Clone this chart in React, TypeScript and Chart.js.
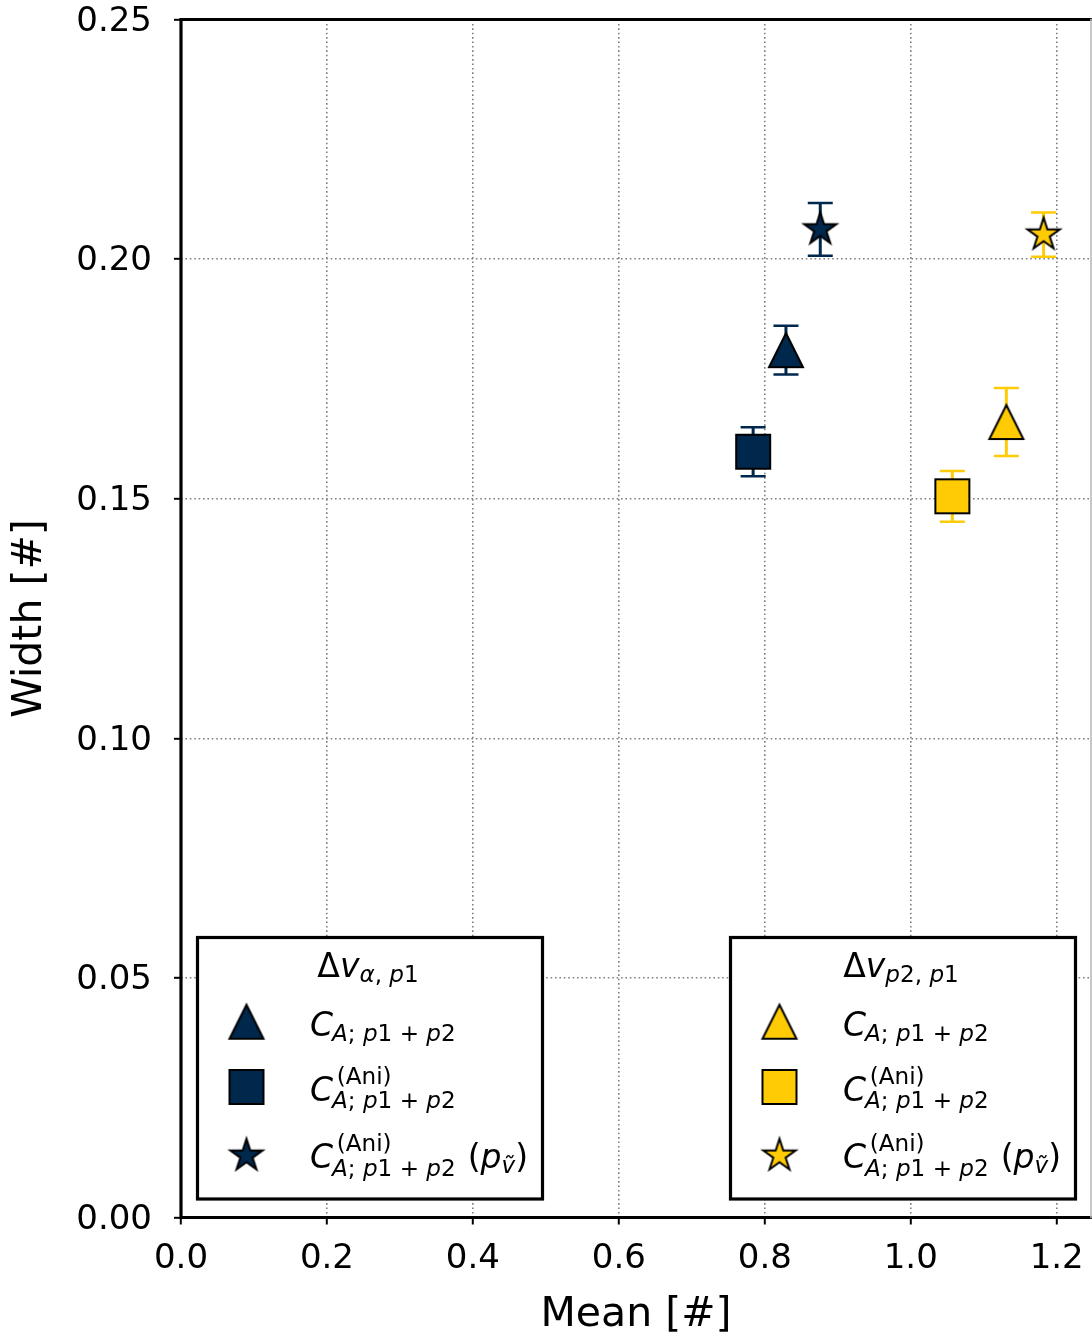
import { useEffect, useRef } from "react";
import { Chart, registerables } from "chart.js";

Chart.register(...registerables);

// Palette
const NAVY = "#00274C";
const MAIZE = "#FFCB05";

// Marker shapes, one per estimator (triangle, square, star)
const markerShapes = ["triangle", "square", "star"];

// Δv_{α,p1} group (navy)
const navyMean = [0.829, 0.784, 0.876];
const navyWidth = [0.181, 0.1598, 0.2062];
const navyErr = [0.0051, 0.0051, 0.0055];

// Δv_{p2,p1} group (maize)
const maizeMean = [1.131, 1.057, 1.182];
const maizeWidth = [0.166, 0.1505, 0.2051];
const maizeErr = [0.0071, 0.0053, 0.0046];

// Axes
const xTicks = [0, 0.2, 0.4, 0.6, 0.8, 1.0, 1.2];
const yTicks = [0, 0.05, 0.1, 0.15, 0.2, 0.25];
const xMax = 1.247;
const yMax = 0.25;
const xTitle = "Mean [#]";
const yTitle = "Width [#]";

// Legend text
const groupTitleSubs = ["α, p1", "p2, p1"];
const entrySub = "A; p1 + p2";
const entrySup = "(Ani)";

const FONT = '"DejaVu Sans"';

function makeMarker(shape: string, fill: string): HTMLCanvasElement {
  const size = 46;
  const c = document.createElement("canvas");
  c.width = size;
  c.height = size;
  const g = c.getContext("2d")!;
  const h = 17;
  const cx = size / 2;
  const cy = size / 2;
  g.beginPath();
  if (shape === "triangle") {
    g.moveTo(cx, cy - h);
    g.lineTo(cx + h, cy + h);
    g.lineTo(cx - h, cy + h);
    g.closePath();
  } else if (shape === "square") {
    g.rect(cx - h, cy - h, 2 * h, 2 * h);
  } else {
    for (let i = 0; i < 10; i++) {
      const r = i % 2 === 0 ? h : h * 0.381966;
      const a = -Math.PI / 2 + (i * Math.PI) / 5;
      const px = cx + r * Math.cos(a);
      const py = cy + r * Math.sin(a);
      if (i === 0) g.moveTo(px, py);
      else g.lineTo(px, py);
    }
    g.closePath();
  }
  g.fillStyle = fill;
  g.fill();
  g.lineWidth = 2;
  g.lineJoin = "miter";
  g.strokeStyle = "#000";
  g.stroke();
  return c;
}

function setFont(ctx: CanvasRenderingContext2D, px: number, italic: boolean) {
  ctx.font = `${italic ? "italic " : ""}${px}px ${FONT}`;
}

const isVar = (ch: string) => /[A-Za-z\u03b1-\u03c9\u1e7d]/.test(ch);

// math-style text: letters oblique, digits and punctuation upright
function measureMath(ctx: CanvasRenderingContext2D, s: string, px: number) {
  let w = 0;
  for (const ch of s) {
    setFont(ctx, px, isVar(ch));
    w += ctx.measureText(ch).width;
  }
  return w;
}

function drawMath(ctx: CanvasRenderingContext2D, s: string, x: number, y: number, px: number) {
  for (const ch of s) {
    setFont(ctx, px, isVar(ch));
    ctx.fillText(ch, x, y);
    x += ctx.measureText(ch).width;
  }
  return x;
}

function drawUpright(ctx: CanvasRenderingContext2D, s: string, x: number, y: number, px: number) {
  setFont(ctx, px, false);
  ctx.fillText(s, x, y);
  return x + ctx.measureText(s).width;
}

function drawLegendBox(
  ctx: CanvasRenderingContext2D,
  left: number,
  top: number,
  right: number,
  bottom: number,
  markers: HTMLCanvasElement[],
  titleSub: string
) {
  const big = 33;
  const small = 23.1;
  ctx.save();
  ctx.fillStyle = "#fff";
  ctx.fillRect(left, top, right - left, bottom - top);
  ctx.lineWidth = 3.2;
  ctx.strokeStyle = "#000";
  ctx.strokeRect(left, top, right - left, bottom - top);

  ctx.fillStyle = "#000";
  ctx.textAlign = "left";
  ctx.textBaseline = "alphabetic";

  // title Δv_{...}
  const tw = measureMath(ctx, "Δv", big) + measureMath(ctx, titleSub, small);
  let tx = (left + right) / 2 - 2 - tw / 2;
  const ty = top + 39.2;
  tx = drawMath(ctx, "Δv", tx, ty, big);
  drawMath(ctx, titleSub, tx, ty + 5.5, small);

  const markerDy = [84.2, 149.5, 218.2];
  const baseDy = [98.5, 163.5, 230.8];
  for (let i = 0; i < 3; i++) {
    const m = markers[i];
    ctx.drawImage(m, left + 49 - m.width / 2, top + markerDy[i] - m.height / 2);
    const y = top + baseDy[i];
    const x0 = left + 112.5;
    setFont(ctx, big, true);
    const wC = ctx.measureText("C").width;
    drawMath(ctx, "C", x0, y, big);
    const hasSup = i > 0;
    if (hasSup) drawUpright(ctx, entrySup, x0 + wC + 3.7, y - 17, small);
    const subEnd = drawMath(ctx, entrySub, x0 + wC - 1, y + (hasSup ? 7.3 : 4.7), small);
    if (i === 2) {
      let x = subEnd + 12;
      x = drawUpright(ctx, "(", x, y, big);
      x = drawMath(ctx, "p", x, y, big);
      x = drawMath(ctx, "\u1e7d", x, y + 5, small);
      drawUpright(ctx, ")", x, y, big);
    }
  }
  ctx.restore();
}

export default function App() {
  const canvasRef = useRef<HTMLCanvasElement | null>(null);

  useEffect(() => {
    const canvas = canvasRef.current;
    if (!canvas) return;

    const navyMarkers = markerShapes.map((s) => makeMarker(s, NAVY));
    const maizeMarkers = markerShapes.map((s) => makeMarker(s, MAIZE));

    const groups = [
      { mean: navyMean, width: navyWidth, err: navyErr, color: NAVY, markers: navyMarkers },
      { mean: maizeMean, width: maizeWidth, err: maizeErr, color: MAIZE, markers: maizeMarkers },
    ];

    const datasets: any[] = [];
    groups.forEach((g, gi) => {
      markerShapes.forEach((shape, k) => {
        datasets.push({
          label: `${gi}-${shape}`,
          data: [{ x: g.mean[k], y: g.width[k] }],
          pointStyle: g.markers[k],
          pointRadius: 17,
          backgroundColor: g.color,
          borderColor: "#000",
        });
      });
    });

    const errorBars = {
      id: "errorBars",
      beforeDatasetsDraw(chart: any) {
        const { ctx, scales } = chart;
        const xs = scales.x;
        const ys = scales.y;
        ctx.save();
        groups.forEach((g) => {
          for (let k = 0; k < g.mean.length; k++) {
            const px = xs.getPixelForValue(g.mean[k]);
            const yLo = ys.getPixelForValue(g.width[k] - g.err[k]);
            const yHi = ys.getPixelForValue(g.width[k] + g.err[k]);
            ctx.strokeStyle = g.color;
            ctx.lineWidth = 3;
            ctx.beginPath();
            ctx.moveTo(px, yLo);
            ctx.lineTo(px, yHi);
            ctx.stroke();
            ctx.lineWidth = 2.5;
            ctx.beginPath();
            ctx.moveTo(px - 12.5, yLo);
            ctx.lineTo(px + 12.5, yLo);
            ctx.moveTo(px - 12.5, yHi);
            ctx.lineTo(px + 12.5, yHi);
            ctx.stroke();
          }
        });
        ctx.restore();
      },
    };

    const frameAndLegends = {
      id: "frameAndLegends",
      afterDraw(chart: any) {
        const { ctx, chartArea } = chart;
        const { left, right, top, bottom } = chartArea;
        ctx.save();
        ctx.strokeStyle = "#000";
        ctx.lineWidth = 3.2;
        ctx.lineCap = "square";
        ctx.beginPath();
        ctx.moveTo(left, bottom);
        ctx.lineTo(left, top);
        ctx.lineTo(right + 2, top);
        ctx.moveTo(left, bottom);
        ctx.lineTo(right + 2, bottom);
        ctx.stroke();
        ctx.lineWidth = 1.6;
        ctx.strokeStyle = "#bbb";
        ctx.beginPath();
        ctx.moveTo(right, top);
        ctx.lineTo(right, bottom);
        ctx.stroke();
        ctx.restore();

        drawLegendBox(ctx, 197.5, 937.5, 542.5, 1199, navyMarkers, groupTitleSubs[0]);
        drawLegendBox(ctx, 730.5, 937.5, 1075.5, 1199, maizeMarkers, groupTitleSubs[1]);
      },
    };

    const gridStyle = {
      color: "#808080",
      lineWidth: 1.6,
      drawTicks: true,
      tickLength: 7,
      tickColor: "#000",
      tickWidth: 2,
    };

    const chart = new Chart(canvas, {
      type: "scatter",
      data: { datasets },
      options: {
        animation: false,
        responsive: false,
        events: [],
        layout: { autoPadding: false, padding: { top: 19.5, right: 1, left: 0, bottom: 0 } },
        plugins: { legend: { display: false }, tooltip: { enabled: false } },
        scales: {
          x: {
            type: "linear",
            min: 0,
            max: xMax,
            afterFit: (s: any) => {
              s.height = 123.5;
              s.paddingLeft = 0;
              s.paddingRight = 0;
            },
            afterBuildTicks: (s: any) => {
              s.ticks = xTicks.map((v) => ({ value: v }));
            },
            grid: gridStyle,
            border: { display: false, dash: [1.6, 2.8] },
            ticks: {
              autoSkip: false,
              maxRotation: 0,
              padding: 14,
              color: "#000",
              font: { family: FONT, size: 34 },
              callback: (v: any) => Number(v).toFixed(1),
            },
            title: {
              display: true,
              text: xTitle,
              color: "#000",
              font: { family: FONT, size: 41 },
              padding: { top: 0, bottom: 1 },
            },
          },
          y: {
            type: "linear",
            min: 0,
            max: yMax,
            afterFit: (s: any) => {
              s.width = 181;
              s.paddingTop = 0;
              s.paddingBottom = 0;
            },
            afterBuildTicks: (s: any) => {
              s.ticks = yTicks.map((v) => ({ value: v }));
            },
            grid: gridStyle,
            border: { display: false, dash: [1.6, 2.8] },
            ticks: {
              autoSkip: false,
              padding: 22,
              labelOffset: 2.5,
              color: "#000",
              font: { family: FONT, size: 34 },
              callback: (v: any) => Number(v).toFixed(2),
            },
            title: {
              display: true,
              text: yTitle,
              color: "#000",
              font: { family: FONT, size: 41 },
              padding: { top: 6, bottom: 0 },
            },
          },
        },
      },
      plugins: [errorBars, frameAndLegends],
    } as any);

    return () => chart.destroy();
  }, []);

  return (
    <div style={{ position: "absolute", left: 0, top: 0, width: 1092, height: 1341, background: "#fff" }}>
      <canvas ref={canvasRef} width={1092} height={1341} style={{ display: "block" }} />
    </div>
  );
}
